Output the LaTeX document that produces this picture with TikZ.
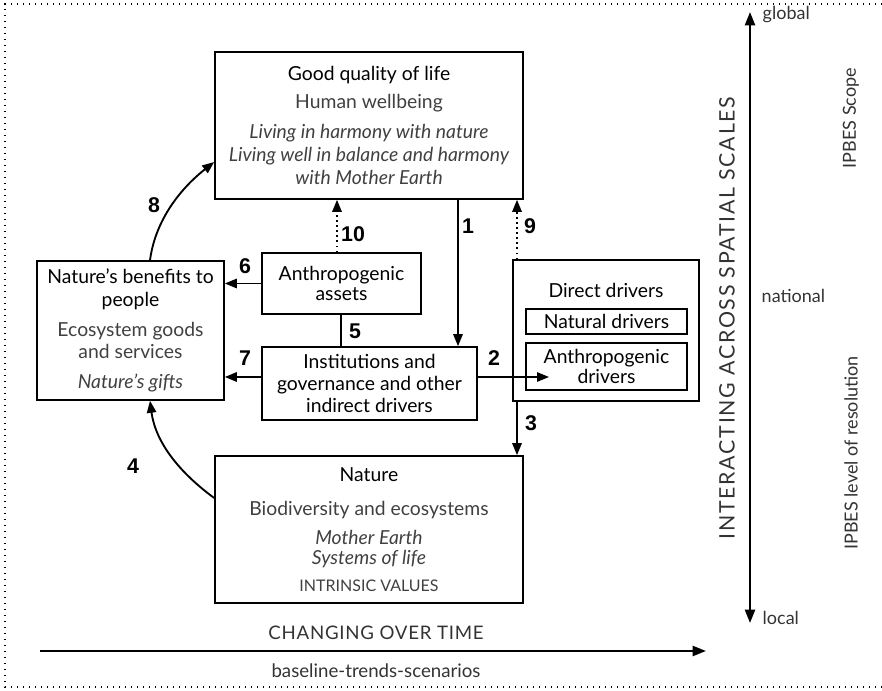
\documentclass[tikz,border=0pt]{standalone}
\usepackage{fontspec}
\setmainfont{Lato}
\newfontfamily\numfont{Liberation Sans}
\usetikzlibrary{arrows.meta}

\tikzset{
  box/.style={draw, line width=1.2pt, inner sep=0pt, align=center,
    font=\fontsize{14.5}{17.25}\selectfont},
  link/.style={line width=1.4pt, -{Triangle[length=9pt,width=7pt]}},
  dotlink/.style={line width=1.4pt, dash pattern=on 1.2pt off 2.6pt,
    -{Triangle[length=9pt,width=7pt]}},
  num/.style={font=\numfont\bfseries\fontsize{16}{16}\selectfont},
  side/.style={font=\fontsize{13.5}{15}\selectfont, text=black!80},
}
\newcommand{\sub}[1]{\textcolor{black!75}{#1}}

\begin{document}
\begin{tikzpicture}[x=0.75pt, y=-0.75pt]
\useasboundingbox (0,0) rectangle (882,691);
% outer dotted frame
\draw[line width=1.1pt, dash pattern=on 1.1pt off 3.4pt] (882,4) -- (5,4) -- (5,687) -- (882,687);

% boxes
\node[box, minimum width=231pt, minimum height=110.25pt] (gql) at (369,125.5)
  {Good quality of life\\[3.5pt]
   \sub{Human wellbeing}\\[5pt]
   \sub{\itshape Living in harmony with nature}\\
   \sub{\itshape Living well in balance and harmony}\\
   \sub{\itshape with Mother Earth}};
\node[box, minimum width=140.25pt, minimum height=104.25pt] (ben) at (130.5,330.5)
  {Nature's benefits to\\ people\\[5pt]
   \sub{Ecosystem goods}\\[-0.5pt] \sub{and services}\\[5pt]
   \sub{\itshape Nature's gifts}};
\node[box, minimum width=119.25pt, minimum height=45.75pt] (assets) at (341.5,283.5)
  {Anthropogenic\\[-2pt] assets};
\node[box, minimum width=161.25pt, minimum height=54.75pt] (inst) at (369.5,383.5)
  {Institutions and\\[-1pt] governance and other\\[-1pt] indirect drivers};
\node[box, minimum width=139.5pt, minimum height=105.75pt] (dd) at (606,330.5) {};
\node[font=\fontsize{14.5}{17}\selectfont] (ddt) at (606,290) {Direct drivers};
\node[box, line width=0.9pt, minimum width=120.75pt, minimum height=18.75pt] (natdr) at (606.5,321.5)
  {Natural drivers};
\node[box, line width=0.9pt, minimum width=120.75pt, minimum height=35.25pt] (anthdr) at (606.5,366.5)
  {Anthropogenic\\[-2pt] drivers};
\node[box, minimum width=231pt, minimum height=110.25pt] (nat) at (369,529.5)
  {Nature\\[8pt]
   \sub{Biodiversity and ecosystems}\\[4.5pt]
   \sub{\itshape Mother Earth}\\[-2.5pt]
   \sub{\itshape Systems of life}\\[3pt]
   \sub{\fontsize{12}{14}\selectfont INTRINSIC VALUES}};

% connector positions
\coordinate (c1) at (458,0);
\coordinate (c9) at (517,0);
\coordinate (c10) at (337,0);
\coordinate (c5) at (341,0);
\coordinate (c7) at (0,377);
\coordinate (a2end) at (549,377);

% connectors
\draw[link] (gql.south -| c1) -- (inst.north -| c1);
\draw[link] (inst.east |- a2end) -- (a2end);
\draw[link] (dd.south -| c9) -- (nat.north -| c9);
\draw[link] (nat.west |- 0,498) .. controls +(-30,-22) and +(6,45) .. (ben.south -| 150,0);
\draw[line width=1.4pt] (assets.south -| c5) -- (inst.north -| c5);
\draw[link] (assets.west) -- (ben.east |- assets.west);
\draw[link] (inst.west |- c7) -- (ben.east |- c7);
\draw[link] (ben.north -| 150,0) .. controls +(6,-45) and +(-28,22) .. (gql.west |- 0,162);
\draw[dotlink] (dd.north -| c9) -- (gql.south -| c9);
\draw[dotlink] (assets.north -| c10) -- (gql.south -| c10);

% numbers
\node[num] (n1) at (468,226) {1};
\node[num] (n2) at (494,358) {2};
\node[num] (n3) at (531,423) {3};
\node[num] (n4) at (133,466) {4};
\node[num] (n5) at (355,331) {5};
\node[num] (n6) at (245,266) {6};
\node[num] (n7) at (245,358) {7};
\node[num] (n8) at (154,205) {8};
\node[num] (n9) at (530,226) {9};
\node[num] (n10) at (353,234) {10};

% spatial scale
\coordinate (sTop) at (750,12);
\coordinate (sBot) at (750,623);
\draw[line width=1.7pt, {Triangle[length=10pt,width=7.5pt]}-{Triangle[length=10pt,width=7.5pt]}] (sBot) -- (sTop);
\node[side, anchor=west] (glob) at (758,15) {global};
\node[side, anchor=west] (natl) at (757,296) {national};
\node[side, anchor=west] (loc) at (758,618) {local};
\node[side, rotate=90, font=\fontsize{16}{18}\selectfont\addfontfeatures{LetterSpace=8}] (inter) at (727,318)
  {INTERACTING ACROSS SPATIAL SCALES};
\node[side, rotate=90] (scope) at (851,118) {IPBES Scope};
\node[side, rotate=90] (resol) at (851,453) {IPBES level of resolution};

% time
\coordinate (tStart) at (40,651);
\coordinate (tEnd) at (706,651);
\draw[line width=1.7pt, -{Triangle[length=10pt,width=7.5pt]}] (tStart) -- (tEnd);
\node[side, font=\fontsize{14}{16}\selectfont\addfontfeatures{LetterSpace=4}] (chg) at (376,633) {CHANGING OVER TIME};
\node[side, font=\fontsize{14}{16}\selectfont] (base) at (376,671) {baseline-trends-scenarios};
\end{tikzpicture}
\end{document}
